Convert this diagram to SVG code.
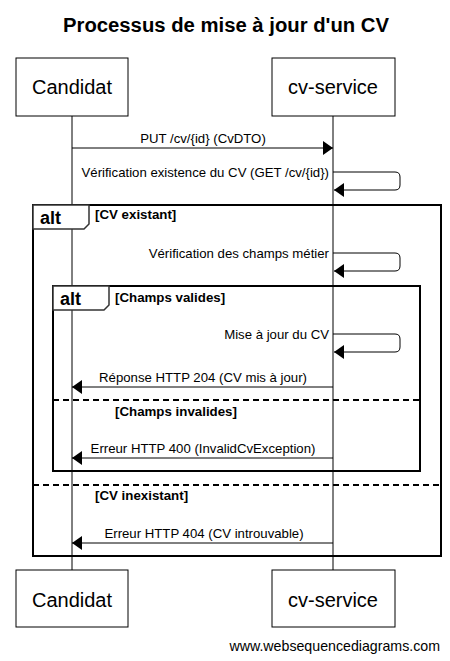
<svg xmlns="http://www.w3.org/2000/svg" width="450" height="661" viewBox="0 0 450 661">
<style>
.bg{fill:#fff}
.box{fill:#fff;stroke:#000;stroke-width:1}
.pl{font-family:"Liberation Sans",Arial,sans-serif;font-size:20px;text-anchor:middle;fill:#000}
.life{stroke:#000;stroke-width:1}
.msg{stroke:#000;stroke-width:1;fill:none}
.ml{font-family:"Liberation Sans",Arial,sans-serif;font-size:13.2px;fill:#000}
.frame{fill:none;stroke:#000;stroke-width:2}
.tab{fill:#fff;stroke:#333;stroke-width:1.5}
.alt{font-family:"Liberation Sans",Arial,sans-serif;font-size:18px;font-weight:bold;fill:#000}
.guard{font-family:"Liberation Sans",Arial,sans-serif;font-size:13.3px;font-weight:bold;fill:#000}
.dash{stroke:#000;stroke-width:2;stroke-dasharray:6,4}
</style>
<defs>
<marker id="ah" viewBox="0 0 10 14" refX="10" refY="7" markerWidth="10" markerHeight="14" markerUnits="userSpaceOnUse" orient="auto">
<path d="M0,0 L10,7 L0,14 Z" fill="#000"/>
</marker>
</defs>
<rect class="bg" width="450" height="661"/>
<text x="226" y="32" font-family="Liberation Sans,Arial,sans-serif" font-size="20.3" font-weight="bold" text-anchor="middle">Processus de mise à jour d'un CV</text>

<g id="lifelines">
<line class="life" x1="72" y1="116" x2="72" y2="570"/>
<line class="life" x1="333" y1="116" x2="333" y2="570"/>
</g>

<g id="frames">
<rect class="frame" x="33" y="205" width="408" height="351"/>
<path class="tab" d="M33,205 H89 V224 L84,229 H33 Z"/>
<text class="alt" x="40" y="224">alt</text>
<text class="guard" x="95" y="219">[CV existant]</text>
<line class="dash" x1="33" y1="485" x2="441" y2="485"/>
<text class="guard" x="95" y="500">[CV inexistant]</text>

<rect class="frame" x="53" y="286" width="367" height="185"/>
<path class="tab" d="M53,286 H109 V305 L104,310 H53 Z"/>
<text class="alt" x="60" y="305">alt</text>
<text class="guard" x="115" y="302">[Champs valides]</text>
<line class="dash" x1="53" y1="400" x2="420" y2="400"/>
<text class="guard" x="115" y="416">[Champs invalides]</text>
</g>

<g id="connectors">
<line class="msg" x1="72" y1="148" x2="333" y2="148" marker-end="url(#ah)"/>
<text class="ml" x="203" y="143" text-anchor="middle">PUT /cv/{id} (CvDTO)</text>

<path class="msg" d="M333,172 H395 Q400,172 400,177 V185 Q400,190 395,190 H334" marker-end="url(#ah)"/>
<text class="ml" x="329" y="177" text-anchor="end">Vérification existence du CV (GET /cv/{id})</text>

<path class="msg" d="M333,253 H395 Q400,253 400,258 V266 Q400,271 395,271 H334" marker-end="url(#ah)"/>
<text class="ml" x="329" y="258" text-anchor="end">Vérification des champs métier</text>

<path class="msg" d="M333,334 H395 Q400,334 400,339 V347 Q400,352 395,352 H334" marker-end="url(#ah)"/>
<text class="ml" x="329" y="339" text-anchor="end">Mise à jour du CV</text>

<line class="msg" x1="333" y1="387" x2="72" y2="387" marker-end="url(#ah)"/>
<text class="ml" x="203" y="382" text-anchor="middle">Réponse HTTP 204 (CV mis à jour)</text>

<line class="msg" x1="333" y1="458" x2="72" y2="458" marker-end="url(#ah)"/>
<text class="ml" x="203" y="453" text-anchor="middle">Erreur HTTP 400 (InvalidCvException)</text>

<line class="msg" x1="333" y1="543" x2="72" y2="543" marker-end="url(#ah)"/>
<text class="ml" x="204" y="538" text-anchor="middle">Erreur HTTP 404 (CV introuvable)</text>
</g>

<g id="candidat-top"><rect class="box" x="16" y="58" width="112" height="58"/><text class="pl" x="72" y="94">Candidat</text></g>
<g id="cvservice-top"><rect class="box" x="272" y="58" width="123" height="58"/><text class="pl" x="333" y="94">cv-service</text></g>
<g id="candidat-bottom"><rect class="box" x="16" y="570" width="112" height="57"/><text class="pl" x="72" y="607">Candidat</text></g>
<g id="cvservice-bottom"><rect class="box" x="272" y="570" width="123" height="57"/><text class="pl" x="333" y="607">cv-service</text></g>

<text x="440" y="651" font-family="Liberation Sans,Arial,sans-serif" font-size="14.2" text-anchor="end">www.websequencediagrams.com</text>
</svg>
